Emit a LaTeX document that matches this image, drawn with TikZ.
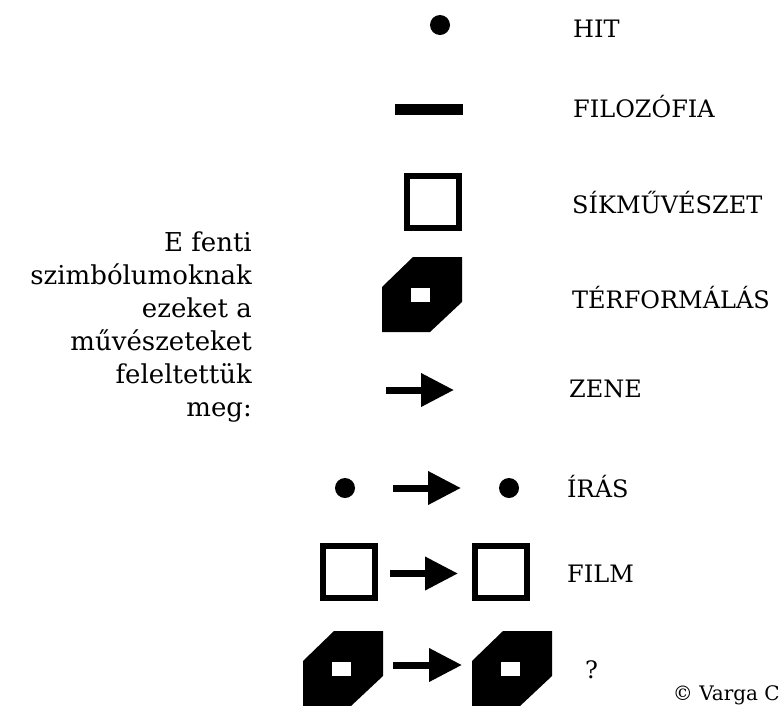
\documentclass[tikz,border=0pt]{standalone}
\usepackage{fontspec}
\setmainfont{DejaVu Serif}
\usetikzlibrary{arrows.meta,positioning}

\tikzset{
  dot/.style={circle,fill,minimum size=20pt,inner sep=0pt,outer sep=0pt},
  bar/.style={fill,minimum width=68pt,minimum height=11pt,inner sep=0pt,outer sep=0pt},
  sq/.style={draw,line width=6pt,minimum width=52pt,minimum height=52pt,inner sep=0pt,outer sep=3pt},
  blockarrow/.style={line width=7pt,-{Triangle[length=33pt,width=32pt]}},
  lbl/.style={anchor=base west,inner sep=0pt,font=\fontsize{24}{28}\selectfont},
  formbox/.pic={
    \node[minimum width=80pt,minimum height=75pt,inner sep=0pt,outer sep=0pt] (-b) {};
    \fill (-9,-37.5) -- (40,-37.5) -- (40,7.5) -- (8,37.5) -- (-40,37.5) -- (-40,-7.5) -- cycle;
    \fill[white] (-11,-6.5) rectangle (8,7.5);
  }
}

\begin{document}
\begin{tikzpicture}[x=1pt,y=-1pt]
\useasboundingbox (0,0) rectangle (782,705);
% symbols
\node[dot] (hit) at (440,25) {};
\node[bar] (filo) at (429,109.5) {};
\node[sq] (sik) at (432.5,202) {};
\pic (ter) at (422,294.5) {formbox};
\coordinate (zeneA) at (386,390);
\coordinate (zeneB) at (454,390);
\draw[blockarrow] (zeneA) -- (zeneB);

\node[dot] (irasL) at (345,488) {};
\node[dot] (irasR) at (509,488) {};
\draw[blockarrow,shorten <=38pt,shorten >=38pt] (irasL) -- (irasR);

\node[sq] (filmL) at (348.5,571.5) {};
\node[sq] (filmR) at (501,571.5) {};
\draw[blockarrow,shorten <=12.5pt,shorten >=14pt] ([yshift=-2pt]filmL.east) -- ([yshift=-2pt]filmR.west);

\pic (qL) at (343,668.5) {formbox};
\pic (qR) at (512,668.5) {formbox};
\draw[blockarrow,shorten <=10pt,shorten >=10pt] ([yshift=3.5pt]qL-b.east) -- ([yshift=3.5pt]qR-b.west);

% labels
\node[lbl] (lhit) at (573,37) {HIT};
\node[lbl] (lfilo) at (573,117) {FILOZÓFIA};
\node[lbl] (lsik) at (572,213) {SÍKMŰVÉSZET};
\node[lbl] (lter) at (572,308) {TÉRFORMÁLÁS};
\node[lbl] (lzene) at (569,397) {ZENE};
\node[lbl] (liras) at (567,497) {ÍRÁS};
\node[lbl] (lfilm) at (567,582) {FILM};
\node[lbl] (lq) at (585,678) {?};

\node[anchor=north east,inner sep=0pt,align=right,font=\fontsize{26}{33}\selectfont] (note) at (252,232)
  {E fenti\\szimbólumoknak\\ezeket a\\művészeteket\\feleltettük\\meg:};
\node[anchor=base east,inner sep=0pt,font=\fontsize{20}{24}\selectfont] (copy) at (780,700) {© Varga C};
\end{tikzpicture}
\end{document}
